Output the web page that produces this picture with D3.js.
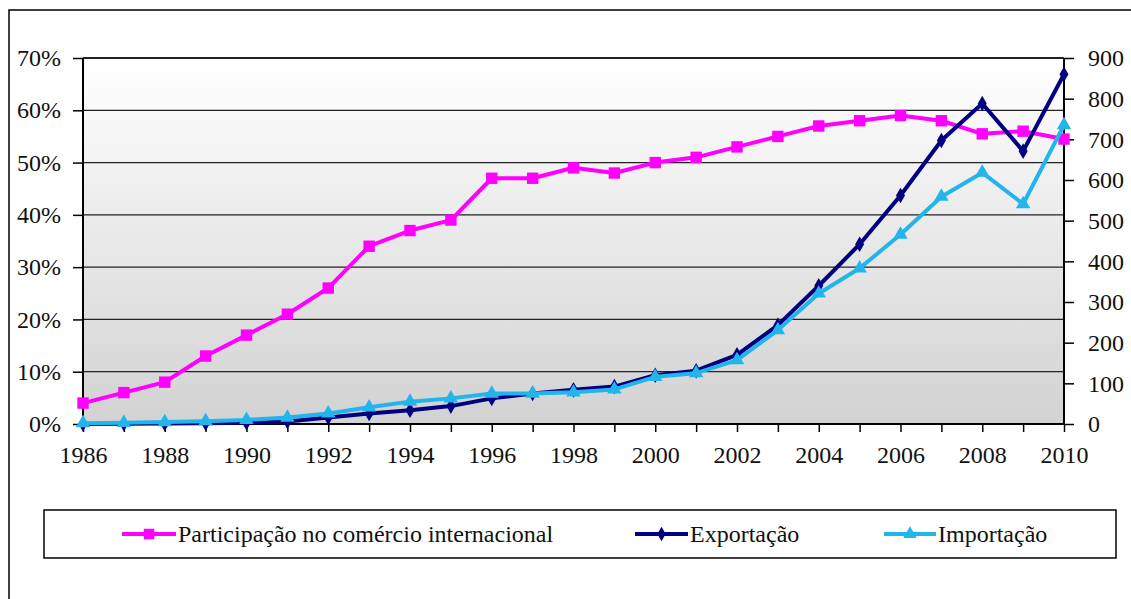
<!DOCTYPE html>
<html>
<head>
<meta charset="utf-8">
<script src="https://cdnjs.cloudflare.com/ajax/libs/d3/7.8.5/d3.min.js"></script>
<style>
    body { margin: 0; background: #fff; }
</style>
</head>
<body>
<div id="chart"></div>
<script>
//Datos
const years = [1986,1987,1988,1989,1990,1991,1992,1993,1994,1995,1996,1997,1998,1999,2000,2001,2002,2003,2004,2005,2006,2007,2008,2009,2010];
const participacao = [4,6,8,13,17,21,26,34,37,39,47,47,49,48,50,51,53,55,57,58,59,58,55.5,56,54.5];
const exportacao = [0,0.5,1,2,3,6,16,26,34,44,63,75,84,92,120,131,170,243,340,442,562,697,788,671,860];
const importacao = [2,3,5,7,10,16,26,41,55,63,75,75,78,85,116,125,157,231,321,383,466,559,618,541,735];
const leftTicks = [0,0.1,0.2,0.3,0.4,0.5,0.6,0.7];
const rightTicks = [0,100,200,300,400,500,600,700,800,900];
const xLabelYears = [1986,1988,1990,1992,1994,1996,1998,2000,2002,2004,2006,2008,2010];
const seriesNames = ['Participação no comércio internacional','Exportação','Importação'];

//Colores
const COLOR_PART = '#FF00FF',
    COLOR_EXP = '#000080',
    COLOR_IMP = '#22B5EC';

const FONT = 'Liberation Serif';

const W = 1131, H = 599;
let margin = {top: 58, right: 67, bottom: 175, left: 83},
    width = W - margin.left - margin.right,
    height = H - margin.top - margin.bottom;

let svg = d3.select('#chart').append('svg')
    .attr('width', W)
    .attr('height', H);

//Marco exterior
svg.append('rect')
    .attr('x', 9).attr('y', 10)
    .attr('width', 1140).attr('height', 620)
    .attr('fill', 'none').attr('stroke', '#000').attr('stroke-width', 1.5);

let defs = svg.append('defs');
let grad = defs.append('linearGradient')
    .attr('id', 'bg').attr('x1', 0).attr('y1', 0).attr('x2', 0).attr('y2', 1);
grad.append('stop').attr('offset', '0%').attr('stop-color', '#ffffff');
grad.append('stop').attr('offset', '100%').attr('stop-color', '#d2d2d2');

let g = svg.append('g')
    .attr('transform', 'translate(' + margin.left + ',' + margin.top + ')');

let x = d3.scaleLinear().domain([1986, 2010]).range([0, width]);
let yL = d3.scaleLinear().domain([0, 0.7]).range([height, 0]);
let yR = d3.scaleLinear().domain([0, 900]).range([height, 0]);

g.append('rect')
    .attr('width', width).attr('height', height)
    .attr('fill', 'url(#bg)');

//Rejilla
g.append('g')
    .selectAll('line')
    .data(leftTicks)
    .enter()
    .append('line')
    .attr('x1', 0).attr('x2', width)
    .attr('y1', d => yL(d)).attr('y2', d => yL(d))
    .attr('stroke', '#222')
    .attr('stroke-width', d => d == 0.7 ? 2 : 1.3);

//Ejes
let axisL = g.append('g')
    .call(d3.axisLeft(yL).tickValues(leftTicks).tickFormat(d3.format('.0%')).tickSize(10).tickPadding(12));
let axisR = g.append('g')
    .attr('transform', 'translate(' + width + ',0)')
    .call(d3.axisRight(yR).tickValues(rightTicks).tickSize(10).tickPadding(14));
let axisB = g.append('g')
    .attr('transform', 'translate(0,' + height + ')')
    .call(d3.axisBottom(x).tickValues(years).tickSize(8).tickPadding(14)
        .tickFormat(d => xLabelYears.indexOf(d) >= 0 ? d : ''));

[axisL, axisR, axisB].forEach(function(a) {
    a.attr('font-family', FONT).attr('font-size', 24);
    a.select('.domain').attr('stroke', '#000').attr('stroke-width', 2);
    a.selectAll('.tick line').attr('stroke', '#000').attr('stroke-width', 1.5);
    a.selectAll('text').attr('fill', '#111');
});
axisR.selectAll('.domain').attr('d', 'M0,0V' + height);
axisL.selectAll('.domain').attr('d', 'M0,0V' + height);
axisB.selectAll('.domain').attr('d', 'M0,0H' + width);

//Series
let lineL = d3.line().x((d, i) => x(years[i])).y(d => yL(d / 100));
let lineR = d3.line().x((d, i) => x(years[i])).y(d => yR(d));

function drawSeries(values, line, color, symbol, size, yScale) {
    let s = g.append('g');
    s.append('path')
        .datum(values)
        .attr('d', line)
        .attr('fill', 'none')
        .attr('stroke', color)
        .attr('stroke-width', 4)
        .attr('stroke-linejoin', 'round');
    s.selectAll('path.mk')
        .data(values)
        .enter()
        .append('path')
        .attr('class', 'mk')
        .attr('d', d3.symbol().type(symbol).size(size))
        .attr('transform', (d, i) => 'translate(' + x(years[i]) + ',' + yScale(d) + ')')
        .attr('fill', color);
}

drawSeries(participacao, lineL, COLOR_PART, d3.symbolSquare, 130, d => yL(d / 100));
drawSeries(exportacao, lineR, COLOR_EXP, d3.symbolDiamond, 70, yR);
drawSeries(importacao, lineR, COLOR_IMP, d3.symbolTriangle, 90, yR);

//Leyenda
let legend = svg.append('g');
legend.append('rect')
    .attr('x', 44).attr('y', 510)
    .attr('width', 1072).attr('height', 48)
    .attr('fill', '#fff').attr('stroke', '#000').attr('stroke-width', 1.5);

let legendItems = [
    {name: seriesNames[0], color: COLOR_PART, symbol: d3.symbolSquare, size: 110, x0: 122, x1: 176},
    {name: seriesNames[1], color: COLOR_EXP, symbol: d3.symbolDiamond, size: 60, x0: 635, x1: 688},
    {name: seriesNames[2], color: COLOR_IMP, symbol: d3.symbolTriangle, size: 80, x0: 884, x1: 936}
];

legendItems.forEach(function(it) {
    legend.append('line')
        .attr('x1', it.x0).attr('x2', it.x1)
        .attr('y1', 534).attr('y2', 534)
        .attr('stroke', it.color).attr('stroke-width', 4);
    legend.append('path')
        .attr('d', d3.symbol().type(it.symbol).size(it.size))
        .attr('transform', 'translate(' + (it.x0 + it.x1) / 2 + ',534)')
        .attr('fill', it.color);
    legend.append('text')
        .attr('x', it.x1 + 2).attr('y', 542)
        .attr('font-family', FONT)
        .attr('font-size', 24)
        .attr('fill', '#111')
        .text(it.name);
});
</script>
</body>
</html>
